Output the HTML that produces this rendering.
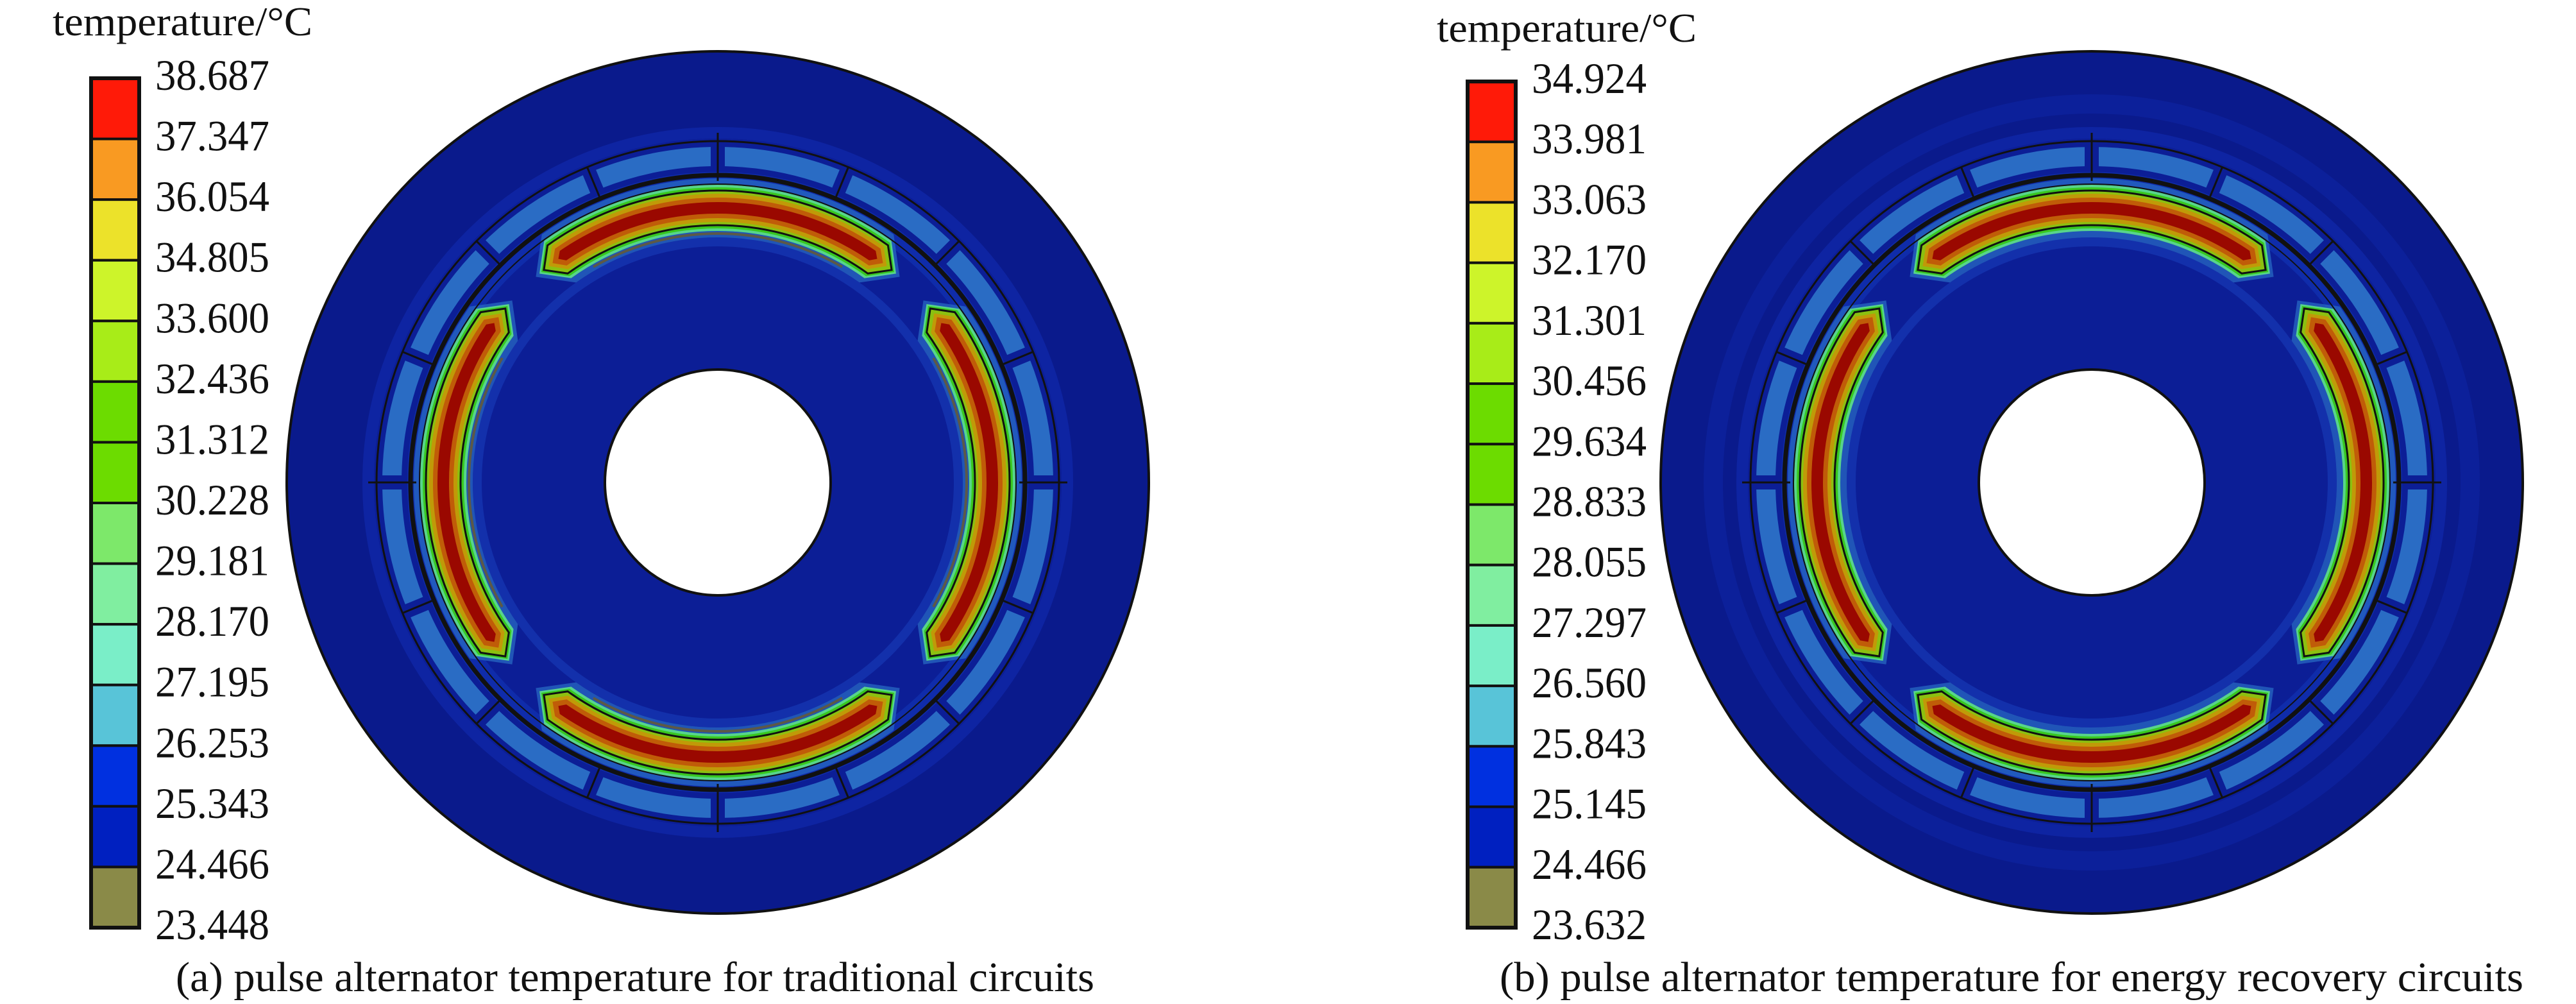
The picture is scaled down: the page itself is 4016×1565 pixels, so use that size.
<!DOCTYPE html>
<html><head><meta charset="utf-8">
<style>html,body{margin:0;padding:0;background:#fff;}svg{display:block;}svg text{font-family:"Liberation Serif",serif;fill:#111;}</style>
</head><body>
<svg id="s" xmlns="http://www.w3.org/2000/svg" width="4016" height="1565" viewBox="0 0 4016 1565">
<rect width="4016" height="1565" fill="#fff"/>
<g id="pa"></g>
<g id="pb"></g>
<text x="274" y="1545" font-size="66" textLength="1432" lengthAdjust="spacingAndGlyphs">(a) pulse alternator temperature for traditional circuits</text>
<text x="2338" y="1545" font-size="66" textLength="1596" lengthAdjust="spacingAndGlyphs">(b) pulse alternator temperature for energy recovery circuits</text>
</svg>
<script>
var NS="http://www.w3.org/2000/svg";
function el(p,t,a,txt){var e=document.createElementNS(NS,t);for(var k in a)e.setAttribute(k,a[k]);if(txt!=null)e.textContent=txt;p.appendChild(e);return e;}
var cols=["#ff1a08","#f99a22","#ece22a","#cdf42a","#a8ec18","#6cdc00","#6cdc00","#7de86a","#80eea0","#7aeec8","#58c4d8","#0030e0","#0020c0","#8a8a48"];
function legend(g,x,top,bot,lx,ty,tx,tw,labels,lw){
  el(g,"text",{x:tx,y:ty,"font-size":64,textLength:tw,lengthAdjust:"spacingAndGlyphs"},"temperature/°C");
  var n=14,h=(bot-top)/n;
  for(var i=0;i<n;i++){el(g,"rect",{x:x,y:top+i*h,width:75,height:h,fill:cols[i],stroke:"#111","stroke-width":4});}
  el(g,"rect",{x:x,y:top,width:75,height:bot-top,fill:"none",stroke:"#111","stroke-width":6});
  for(var i=0;i<labels.length;i++){el(g,"text",{x:lx,y:top+i*h+18,"font-size":68,textLength:lw,lengthAdjust:"spacingAndGlyphs"},labels[i]);}
}
function P(r,a){a=a*Math.PI/180;return [r*Math.sin(a),-r*Math.cos(a)];}
function coilPath(c,rc,hw,th){
  var r1=rc-hw,r2=rc+hw,d=hw/rc*180/Math.PI,a0=c-th,a1=c+th;
  var s="",p;
  p=P(rc,a0);s+="M"+p[0]+","+p[1];
  p=P(r2,a0+d);s+="L"+p[0]+","+p[1];
  p=P(r2,a1-d);s+="A"+r2+","+r2+" 0 0 1 "+p[0]+","+p[1];
  p=P(rc,a1);s+="L"+p[0]+","+p[1];
  p=P(r1,a1-d);s+="L"+p[0]+","+p[1];
  p=P(r1,a0+d);s+="A"+r1+","+r1+" 0 0 0 "+p[0]+","+p[1];
  return s+"Z";
}
function arc(r,a0,a1){var p=P(r,a0),q=P(r,a1);return "M"+p[0]+","+p[1]+"A"+r+","+r+" 0 0 1 "+q[0]+","+q[1];}
function disk(g,cx,cy,b){
  var d=el(g,"g",{transform:"translate("+cx+","+cy+")"});
  el(d,"circle",{r:672,fill:"#0a1a8c",stroke:"#111","stroke-width":4});
  if(b){el(d,"circle",{r:590,fill:"none",stroke:"#0d24a0","stroke-width":30,opacity:0.7});}
  el(d,"circle",{r:545,fill:"none",stroke:"#0e24a2","stroke-width":18});
  el(d,"circle",{r:536,fill:"#0c1e96"});
  el(d,"circle",{r:508,fill:"none",stroke:"#2a6cc4","stroke-width":30});
  el(d,"circle",{r:470,fill:"none",stroke:"#0f2caa","stroke-width":28});
  el(d,"circle",{r:375,fill:"none",stroke:"#1535b0","stroke-width":14,opacity:0.8});
  for(var k=0;k<16;k++){var a=k*22.5;var p=P(486,a),q=P(528,a);
    el(d,"line",{x1:p[0],y1:p[1],x2:q[0],y2:q[1],stroke:"#0c1e96","stroke-width":22});}
  var L=[[428,36,40.5,"#58d48c"],[428,32,40,"#38c820"],[428,27,39,"#8cc010"],[428,22,38,"#c09a08"],[428,16,37,"#c05c08"],[428,9,35.5,"#9a0800"]];
  for(var c=0;c<4;c++){var ca=c*90;
    el(d,"path",{d:coilPath(ca,428,46,41.5),fill:"#2a6cc4",opacity:0.7});
    for(var i=0;i<L.length;i++){el(d,"path",{d:coilPath(ca,L[i][0],L[i][1],L[i][2]),fill:L[i][3]});}
    el(d,"path",{d:coilPath(ca,428,27,39.3),fill:"none",stroke:"#111","stroke-width":3});
    if(!b)el(d,"path",{d:arc(388,ca-30,ca+30),fill:"none",stroke:"#6b5a2a","stroke-width":4,opacity:0.8});
  }
  el(d,"circle",{r:532,fill:"none",stroke:"#111","stroke-width":3});
  el(d,"circle",{r:479,fill:"none",stroke:"#111","stroke-width":7});
  el(d,"circle",{r:465,fill:"none",stroke:"#111","stroke-width":2});
  for(var k=0;k<16;k++){var a=k*22.5;var p=P(479,a),q=P(532,a);
    el(d,"line",{x1:p[0],y1:p[1],x2:q[0],y2:q[1],stroke:"#111","stroke-width":3});}
  for(var k=0;k<4;k++){var a=k*90;var p=P(470,a),q=P(545,a);
    el(d,"line",{x1:p[0],y1:p[1],x2:q[0],y2:q[1],stroke:"#111","stroke-width":3});}
  el(d,"circle",{r:176,fill:"#fff",stroke:"#111","stroke-width":4});
}
var ga=document.getElementById("pa"),gb=document.getElementById("pb");
disk(ga,1119,752,false);
disk(gb,3261,752,true);
legend(ga,142,122,1446,242,55,82,405,["38.687","37.347","36.054","34.805","33.600","32.436","31.312","30.228","29.181","28.170","27.195","26.253","25.343","24.466","23.448"],178);
legend(gb,2288,127,1446,2388,65,2240,405,["34.924","33.981","33.063","32.170","31.301","30.456","29.634","28.833","28.055","27.297","26.560","25.843","25.145","24.466","23.632"],179);
</script>
</body></html>
